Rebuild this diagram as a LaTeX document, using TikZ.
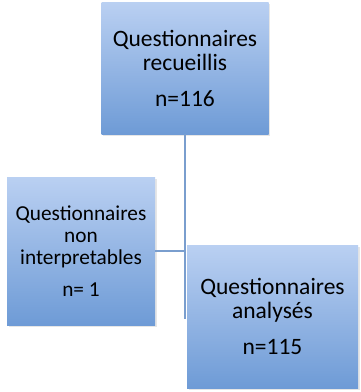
\documentclass[tikz,border=0pt]{standalone}
\usepackage{fontspec}
\setmainfont{Carlito}
\usepackage{xcolor}
\usetikzlibrary{
    shadows,
    calc,
    positioning
}
\definecolor{boxtop}{RGB}{186,208,242}
\definecolor{boxbot}{RGB}{110,155,214}
\definecolor{linkblue}{RGB}{122,158,206}
\tikzset{
    box/.style={top color=boxtop, bottom color=boxbot, align=center, inner sep=0pt,
        drop shadow={opacity=0.2, shadow xshift=1.5pt, shadow yshift=-2pt}},
    link/.style={draw=linkblue, line width=1.6pt}
}

\begin{document}
\begin{tikzpicture}[x=1pt, y=-1pt]
    \useasboundingbox (0,0) rectangle (360,392);

    \node[box, minimum width=167pt, minimum height=132pt, font=\fontsize{23.5}{24}\selectfont] (recus) at (185,68)
        {Questionnaires\\recueillis\\[12pt]n=116};
    \node[box, minimum width=148pt, minimum height=148pt, font=\fontsize{21.3}{22}\selectfont] (rejet) at (81,251)
        {Questionnaires\\non\\interpretables\\[10pt]n= 1};

    \coordinate (stem) at (recus.south |- 0,319);
    \coordinate (join) at (recus.south |- rejet.east);
    \draw[link] (recus.south) -- (stem);
    \draw[link] (rejet.east) -- (join);

    \node[box, minimum width=171pt, minimum height=143pt, font=\fontsize{23.5}{24}\selectfont] (analyse) at (272.5,316.5)
        {Questionnaires\\analysés\\[12pt]n=115};
\end{tikzpicture}
\end{document}
